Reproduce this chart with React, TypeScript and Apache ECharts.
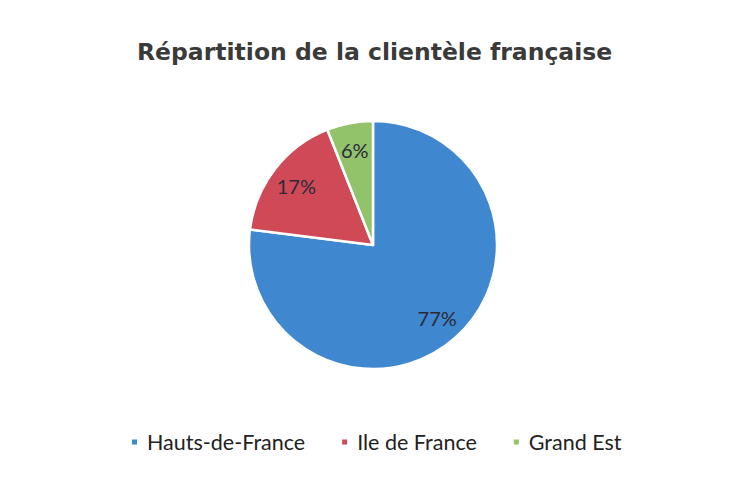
import React, { useEffect, useRef } from "react";
import * as echarts from "echarts";

const categories = ["Hauts-de-France", "Ile de France", "Grand Est"];
const values = [77, 17, 6];
const colors = ["#3f87cf", "#cf4a56", "#92c26a"];
const title = "Répartition de la clientèle française";

export default function App() {
  const ref = useRef<HTMLDivElement>(null);
  useEffect(() => {
    if (!ref.current) return;
    const chart = echarts.init(ref.current, undefined, { renderer: "svg" });
    const data = categories.map((name, i) => ({ name, value: values[i] }));
    chart.setOption({
      animation: false,
      backgroundColor: "#ffffff",
      color: colors,
      title: {
        text: title,
        left: 132,
        top: 35,
        textStyle: {
          fontFamily: "DejaVu Sans",
          fontWeight: "bold",
          fontSize: 23.5,
          color: "#3a3a3a",
        },
      },
      legend: {
        data: categories,
        bottom: 19,
        left: 125,
        icon: "rect",
        itemWidth: 7,
        itemHeight: 7,
        itemGap: 35,
        textStyle: {
          fontFamily: "Lato",
          fontSize: 21.5,
          color: "#222",
          padding: [0, 0, 0, 4],
        },
      },
      series: [
        {
          type: "pie",
          center: [373, 245],
          radius: [0, 124],
          startAngle: 90,
          clockwise: true,
          data,
          itemStyle: { borderColor: "#ffffff", borderWidth: 2.5 },
          label: { show: false },
          labelLine: { show: false },
        },
        {
          type: "pie",
          center: [373, 245],
          radius: [0, 188],
          startAngle: 90,
          clockwise: true,
          silent: true,
          data,
          itemStyle: { color: "rgba(0,0,0,0)" },
          label: {
            show: true,
            position: "inside",
            formatter: "{d}%",
            fontFamily: "Lato",
            fontSize: 20,
            color: "#2a2a3a",
          },
          labelLine: { show: false },
        },
      ],
    });
    return () => chart.dispose();
  }, []);
  return (
    <div
      ref={ref}
      style={{ position: "absolute", left: 0, top: 0, width: 731, height: 477 }}
    />
  );
}
